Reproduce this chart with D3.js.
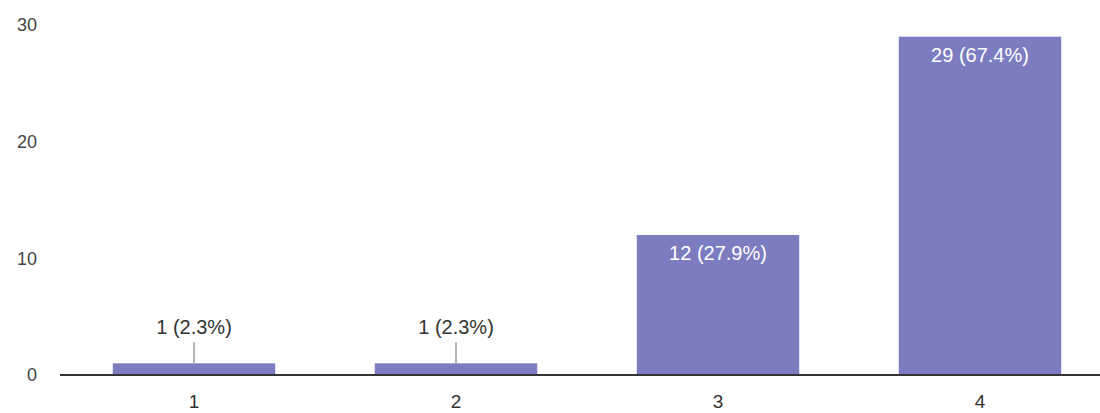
<!DOCTYPE html>
<html><head><meta charset="utf-8">
<script src="https://cdn.jsdelivr.net/npm/d3@7"></script>
<style>body{margin:0;background:#fff}svg{display:block;font-family:"Liberation Sans",Arial,sans-serif}</style>
</head><body><svg id="c" width="1100" height="413"></svg>
<script>
const categories = ["1","2","3","4"];
const counts = [1, 1, 12, 29];
const labels = ["1 (2.3%)","1 (2.3%)","12 (27.9%)","29 (67.4%)"];
const yTicks = [0, 10, 20, 30];

const svg = d3.select("#c");
const x = d3.scaleBand().domain(categories).range([63, 1111]).paddingInner(0.38).paddingOuter(0.19);
const y = d3.scaleLinear().domain([0, 30]).range([375, 25]);

// y tick labels
const ya = svg.append("g").attr("transform","translate(37,0)")
  .call(d3.axisLeft(y).tickValues(yTicks).tickSize(0).tickPadding(0));
ya.select(".domain").remove();
ya.selectAll("text").attr("fill","#444").style("font-size","18px").style("font-family","'Liberation Sans',Arial,sans-serif");

// bars
svg.append("g").selectAll("rect").data(counts).join("rect")
  .attr("x",(d,i)=>x(categories[i])).attr("y",d=>y(d))
  .attr("width",x.bandwidth()).attr("height",d=>y(0)-y(d))
  .attr("fill","#7c7cc0");

// x axis
const xa = svg.append("g").attr("transform","translate(0,375)")
  .call(d3.axisBottom(x).tickSize(0).tickPadding(20));
xa.select(".domain").attr("d","M60,0H1100").attr("stroke","#333").attr("stroke-width",2);
xa.selectAll("text").attr("fill","#333").style("font-size","19px").style("font-family","'Liberation Sans',Arial,sans-serif");

// data labels
const lab = svg.append("g");
counts.forEach((d,i)=>{
  const cx = x(categories[i]) + x.bandwidth()/2;
  const inside = (y(0)-y(d)) > 40;
  if (inside) {
    lab.append("text").attr("x",cx).attr("y",y(d)+25).attr("text-anchor","middle")
      .attr("fill","#fff").style("font-size","20px").text(labels[i]);
  } else {
    lab.append("line").attr("x1",cx).attr("x2",cx).attr("y1",y(d)-21).attr("y2",y(d))
      .attr("stroke","#999").attr("stroke-width",1.5);
    lab.append("text").attr("x",cx).attr("y",y(d)-29).attr("text-anchor","middle")
      .attr("fill","#333").style("font-size","20px").text(labels[i]);
  }
});
</script></body></html>
